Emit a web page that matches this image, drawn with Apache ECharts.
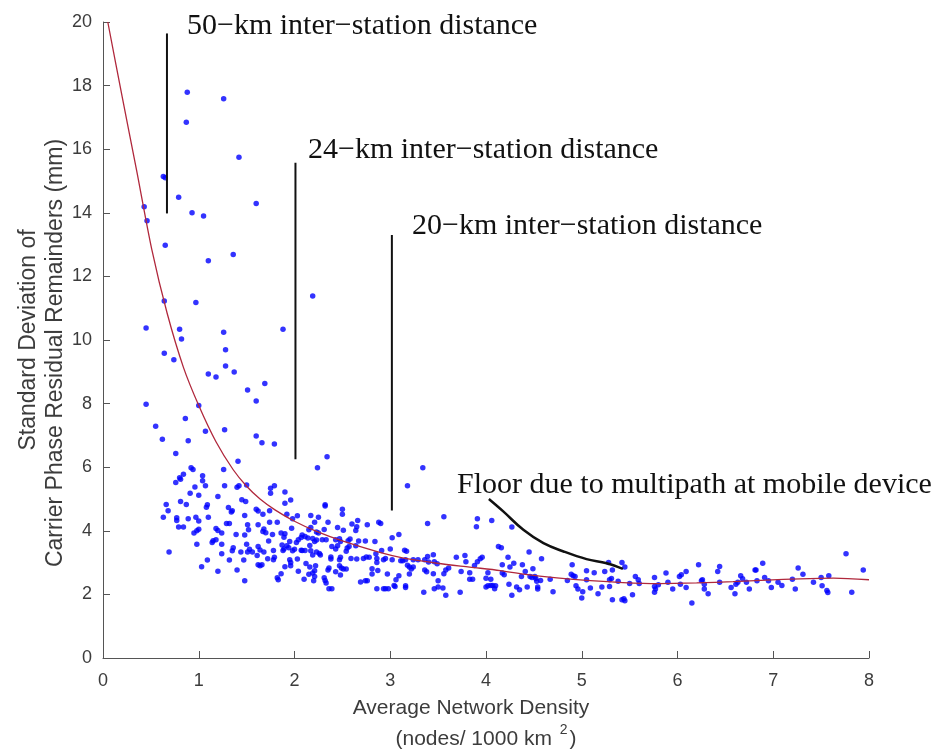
<!DOCTYPE html>
<html>
<head>
<meta charset="utf-8">
<title>Carrier phase residual remainders vs network density</title>
<script src="https://cdn.jsdelivr.net/npm/echarts@6/dist/echarts.min.js"></script>
<style>
  html, body { margin: 0; padding: 0; background: #ffffff; }
  #chart { width: 952px; height: 749px; }
</style>
</head>
<body>
<div id="chart"></div>
<script>
// Per-network results: [average density (nodes / 1000 km^2), std. dev. of residual remainders (mm)]
const residualPoints = [
  [0.88,17.79],[1.26,17.59],[0.87,16.85],[1.42,15.75],[0.63,15.14],[0.65,15.10],[0.79,14.49],[0.43,14.19],
  [0.93,14.00],[1.05,13.90],[1.60,14.29],[0.46,13.75],[0.65,12.98],
  [1.36,12.69],[1.10,12.49],[2.19,11.38],[0.64,11.23],[0.97,11.18],[0.45,10.38],[0.80,10.34],[1.26,10.24],
  [1.88,10.34],[0.82,10.03],[1.28,9.69],[0.64,9.58],[0.74,9.38],[1.28,9.18],[1.37,8.99],[1.10,8.93],
  [1.18,8.84],[1.69,8.63],[1.51,8.43],[1.60,8.08],[0.45,7.98],[1.00,7.94],[0.86,7.53],[0.55,7.29],
  [1.07,7.13],[1.27,7.18],[0.62,6.88],[0.89,6.83],[1.60,6.98],[1.66,6.77],[1.79,6.73],[0.76,6.43],
  [1.41,6.19],[2.24,5.98],[0.92,5.98],[0.94,5.93],[1.26,5.93],[0.84,5.78],[1.04,5.73],[0.80,5.67],[0.81,5.62],
  [2.34,6.33],[3.34,5.98],[3.18,5.42],
  [0.76,5.52],[0.96,5.38],[1.04,5.57],[1.07,5.42],[1.27,5.42],[1.20,5.08],[1.40,5.37],[1.42,5.42],
  [1.50,5.44],[0.91,5.18],[1.00,5.12],[1.45,4.98],[1.49,4.92],[0.81,4.92],[0.66,4.83],[0.87,4.83],
  [1.08,4.74],[1.09,4.82],[1.60,4.68],[1.62,4.62],[0.68,4.63],[0.63,4.43],[0.77,4.41],[0.77,4.32],
  [0.89,4.38],[0.97,4.43],[1.00,4.31],[1.10,4.43],[1.31,4.73],[1.34,4.59],[1.35,4.63],[1.48,4.48],
  [1.29,4.23],[1.32,4.23],[1.51,4.19],[1.62,4.19],[0.79,4.12],[0.84,4.12],[1.00,4.05],[0.98,4.00],
  [0.95,3.93],[1.18,4.07],[1.20,4.01],[1.24,3.93],[1.52,4.03],[1.39,3.88],[1.48,3.87],[1.15,3.69],
  [1.14,3.63],[1.18,3.72],[1.24,3.58],[0.98,3.58],[1.50,3.58],[1.62,3.51],[1.36,3.47],[1.35,3.37],
  [1.53,3.42],[1.51,3.33],[1.56,3.33],[1.44,3.33],[0.69,3.33],[1.24,3.28],[1.61,3.22],[1.09,3.08],
  [1.32,3.08],[1.47,3.08],[1.62,2.93],[1.03,2.87],[1.20,2.73],[1.40,2.77],[1.48,2.43],
  [1.75,5.34],[1.79,5.42],[1.75,5.18],[1.90,5.22],[1.90,4.87],[1.96,4.97],[2.32,4.82],[2.32,4.78],
  [2.50,4.68],[2.50,4.52],[1.67,4.52],[1.74,4.63],[1.92,4.52],[1.98,4.38],[2.03,4.47],[2.17,4.48],
  [2.25,4.43],[2.21,4.27],[2.35,4.27],[1.74,4.27],[1.82,4.27],[1.68,4.06],[1.67,3.98],[1.70,3.94],
  [1.77,3.88],[1.86,3.93],[1.90,3.91],[1.89,3.80],[1.97,4.08],[2.08,3.87],[2.07,3.79],[2.15,4.03],
  [2.17,4.10],[2.23,3.96],[2.25,3.93],[2.31,4.04],[2.45,4.10],[2.51,4.02],[2.60,4.21],[2.65,4.13],
  [2.64,4.01],[2.66,4.32],[2.76,4.19],[2.88,4.27],[1.73,3.68],[1.95,3.66],[2.04,3.72],[2.11,3.82],
  [2.14,3.77],[2.19,3.76],[2.21,3.66],[2.23,3.71],[2.29,3.72],[2.33,3.72],[2.43,3.72],[2.47,3.75],
  [2.48,3.66],[2.56,3.69],[2.58,3.74],[2.67,3.68],[2.74,3.68],[2.84,3.66],[1.64,3.40],[1.68,3.33],
  [1.78,3.38],[1.87,3.55],[1.89,3.43],[1.88,3.38],[1.92,3.53],[1.94,3.47],[2.00,3.42],[1.98,3.37],
  [2.02,3.63],[2.07,3.39],[2.08,3.38],[2.11,3.38],[2.16,3.54],[2.17,3.37],[2.23,3.33],[2.26,3.29],
  [2.39,3.51],[2.45,3.53],[2.43,3.43],[2.54,3.36],[2.55,3.46],[2.57,3.51],[2.64,3.53],[1.79,3.17],
  [1.78,3.09],[1.72,3.12],[1.95,3.09],[1.96,3.00],[2.03,3.11],[2.19,3.24],[2.27,3.24],[2.38,3.18],
  [2.38,3.11],[2.47,3.09],[2.48,3.17],[2.59,3.13],[2.65,3.11],[2.72,3.13],[2.75,3.18],[2.78,3.17],
  [2.85,3.28],[2.86,3.13],[1.64,2.90],[1.66,2.93],[1.90,2.87],[1.96,2.90],[2.12,2.97],[2.16,2.86],
  [2.22,2.90],[2.21,2.74],[2.36,2.83],[2.35,2.77],[2.47,2.90],[2.49,2.83],[2.51,2.80],[2.54,2.80],
  [2.43,2.71],[2.81,2.81],[2.87,2.75],[2.04,2.73],[1.86,2.65],[1.82,2.52],[1.83,2.46],[2.10,2.48],
  [2.15,2.63],[2.19,2.67],[2.21,2.56],[2.20,2.43],[2.31,2.52],[2.32,2.44],[2.33,2.36],[2.48,2.61],
  [2.69,2.39],[2.74,2.43],[2.76,2.43],[2.81,2.64],[2.36,2.18],[2.39,2.18],[2.86,2.18],
  [2.90,4.23],[3.39,4.23],[3.56,4.44],[3.91,4.38],[3.90,4.13],[4.06,4.32],[3.02,3.78],[3.09,3.88],
  [2.91,3.38],[3.00,3.43],[3.15,3.39],[3.17,3.36],[2.93,3.09],[2.95,3.13],[3.02,3.09],[3.11,3.06],
  [3.13,3.06],[3.16,3.09],[3.24,3.09],[3.29,3.09],[3.36,3.09],[3.39,3.19],[3.40,3.02],[3.45,3.25],
  [3.46,3.03],[3.49,2.96],[3.69,3.17],[3.78,3.22],[3.79,3.03],[3.91,3.03],[3.94,3.12],[3.96,3.17],
  [3.88,2.91],[2.86,3.00],[3.18,2.92],[3.20,2.86],[3.22,2.80],[3.24,2.86],[3.36,2.77],[3.38,2.71],
  [3.45,2.65],[3.56,2.65],[3.58,2.77],[3.61,2.83],[3.74,2.72],[3.83,2.68],[4.02,2.68],[2.97,2.64],
  [3.09,2.59],[3.06,2.46],[3.04,2.28],[3.20,2.64],[3.16,2.27],[3.16,2.22],[3.50,2.43],[3.83,2.48],
  [3.86,2.48],[4.00,2.51],[4.05,2.48],[2.93,2.18],[2.95,2.18],[2.98,2.18],[3.05,2.25],[3.35,2.07],
  [3.46,2.18],[3.50,2.23],[3.55,2.20],[3.58,1.97],[3.73,2.07],[4.00,2.23],[4.02,2.27],[4.05,2.28],
  [4.07,2.28],[4.10,2.27],[4.09,2.18],[4.13,3.51],
  [4.27,4.12],[4.16,3.47],[4.23,3.17],[4.29,2.98],[4.17,2.93],[4.45,3.33],[4.58,3.12],[4.38,2.93],
  [4.49,2.81],[4.25,2.86],[4.17,2.67],[4.19,2.62],[4.41,2.72],[4.37,2.56],[4.46,2.56],[4.48,2.53],
  [4.51,2.56],[4.52,2.50],[4.57,2.44],[4.53,2.41],[4.67,2.48],[4.24,2.32],[4.32,2.23],[4.35,2.15],
  [4.27,1.97],[4.43,2.23],[4.54,2.17],[4.54,2.23],[4.70,2.08],[4.85,2.44],[4.89,2.63],[4.91,2.59],
  [4.93,2.56],[4.90,2.93],[4.94,2.27],[4.96,2.17],[5.01,2.08],[5.00,1.89],[5.09,2.20],[5.17,2.02],
  [5.05,2.74],[5.05,2.46],[5.13,2.68],[5.21,2.23],[5.24,2.72],[5.28,3.00],[5.29,2.46],[5.31,2.50],
  [5.32,2.77],[5.32,1.83],[5.29,2.25],[5.42,3.00],[5.45,2.86],[5.42,1.83],[5.44,1.86],[5.45,1.80],
  [5.38,2.41],[5.50,2.34],[5.53,1.99],[5.56,2.56],[5.59,2.46],[5.60,2.34],
  [5.76,2.53],[5.76,2.25],[5.77,2.17],[5.76,2.07],[5.80,2.30],[5.88,2.67],[5.90,2.38],[5.95,2.17],
  [6.02,2.56],[6.04,2.62],[6.03,2.32],[6.09,2.72],[6.09,2.22],[6.15,1.73],[6.22,2.93],[6.25,2.43],
  [6.26,2.46],[6.28,2.32],[6.28,2.17],[6.32,2.02],[6.42,2.72],[6.44,2.88],[6.44,2.38],[6.56,2.22],
  [6.60,2.02],[6.61,2.32],[6.63,2.38],[6.66,2.59],[6.68,2.49],[6.72,2.38],[6.75,2.17],[6.81,2.77],
  [6.82,2.77],[6.83,2.43],[6.89,2.98],[6.91,2.53],[6.95,2.43],[6.98,2.22],[7.05,2.38],[7.09,2.28],
  [7.20,2.48],[7.23,2.17],[7.26,2.83],[7.31,2.63],[7.42,2.38],[7.50,2.53],[7.51,2.27],[7.56,2.12],
  [7.57,2.06],[7.58,2.59],[7.76,3.28],[7.82,2.07],[7.94,2.77]
];

// Fitted trend through the residual scatter
const fitCurve = [
  [0.05,20.00],[0.20,17.65],[0.35,15.35],[0.51,12.84],[0.67,10.84],[0.84,9.14],[1.00,7.94],
  [1.18,6.80],[1.36,5.92],[1.50,5.40],[1.64,5.00],[1.80,4.65],[2.00,4.30],[2.23,3.98],[2.50,3.68],
  [2.89,3.32],[3.14,3.14],[3.49,2.98],[3.83,2.86],[4.15,2.75],[4.39,2.64],[4.74,2.52],[5.09,2.43],
  [5.43,2.37],[5.80,2.34],[6.20,2.36],[6.58,2.40],[6.93,2.45],[7.28,2.49],[7.63,2.51],[8.00,2.46]
];

// Reference markers for inter-station spacing: [density, top, bottom]
const spacingMarkers = [
  [0.668, 19.64, 13.98],
  [2.010, 15.57, 6.25],
  [3.017, 13.30, 4.64]
];

// Leader curve pointing at the multipath floor
const floorLeader = [
  [4.03,5.00],[4.18,4.61],[4.39,4.03],[4.60,3.61],[4.81,3.35],[5.05,3.11],[5.26,2.98],[5.43,2.80]
];

const annotationTexts = [
  '50\u2212km inter\u2212station distance',
  '24\u2212km inter\u2212station distance',
  '20\u2212km inter\u2212station distance',
  'Floor due to multipath at mobile device'
];

const sans = '"Liberation Sans", Arial, Helvetica, sans-serif';
const serif = '"Liberation Serif", "Times New Roman", Times, serif';
const axisGray = '#555555';
const labelGray = '#3c3c3c';

const markerSeries = spacingMarkers.map(function (m, i) {
  return {
    type: 'line',
    name: 'spacing' + i,
    data: [[m[0], m[1]], [m[0], m[2]]],
    showSymbol: false,
    silent: true,
    lineStyle: { color: '#111111', width: 2 },
    z: 4
  };
});

const chart = echarts.init(document.getElementById('chart'), null, { renderer: 'canvas' });

chart.setOption({
  animation: false,
  backgroundColor: '#ffffff',
  grid: { left: 103, top: 22, width: 766, height: 636, containLabel: false, outerBoundsMode: 'none' },
  xAxis: {
    type: 'value',
    min: 0, max: 8, interval: 1,
    axisLine: { show: true, onZero: false, lineStyle: { color: axisGray, width: 1 } },
    axisTick: { show: true, inside: true, length: 7, lineStyle: { color: axisGray } },
    splitLine: { show: false },
    axisLabel: { color: labelGray, fontSize: 18, fontFamily: sans, margin: 14 },
    name: '{t|Average Network Density}\n{u|(nodes/ 1000 km }{s|2}{u|)}',
    nameLocation: 'middle',
    nameGap: 35,
    nameMoveOverlap: false,
    nameTextStyle: {
      color: labelGray,
      fontFamily: sans,
      rich: {
        t: { fontSize: 21, lineHeight: 30, fontFamily: sans, color: labelGray, padding: [0, 30, 0, 0] },
        u: { fontSize: 21, lineHeight: 32, fontFamily: sans, color: labelGray },
        s: { fontSize: 14, lineHeight: 32, fontFamily: sans, color: labelGray, verticalAlign: 'top', padding: [0, 2, 0, 2] }
      }
    }
  },
  yAxis: {
    type: 'value',
    min: 0, max: 20, interval: 2,
    axisLine: { show: true, onZero: false, lineStyle: { color: axisGray, width: 1 } },
    axisTick: { show: true, inside: true, length: 7, lineStyle: { color: axisGray } },
    splitLine: { show: false },
    axisLabel: { color: labelGray, fontSize: 18, fontFamily: sans, margin: 11 },
    name: '{a|Standard Deviation of}\n{b|Carrier Phase Residual Remainders (mm)}',
    nameLocation: 'middle',
    nameRotate: 90,
    nameGap: 34,
    nameMoveOverlap: false,
    nameTextStyle: {
      color: labelGray,
      fontFamily: sans,
      rich: {
        a: { fontSize: 23, lineHeight: 27, fontFamily: sans, color: labelGray },
        b: { fontSize: 23, lineHeight: 27, fontFamily: sans, color: labelGray, padding: [0, 26, 0, 0] }
      }
    }
  },
  series: [
    {
      type: 'scatter',
      name: 'networks',
      data: residualPoints,
      symbol: 'circle',
      symbolSize: 5.5,
      itemStyle: { color: '#0000ff' },
      silent: true,
      z: 2
    },
    {
      type: 'line',
      name: 'fit',
      data: fitCurve,
      smooth: 0.3,
      showSymbol: false,
      silent: true,
      lineStyle: { color: '#b0283c', width: 1.3 },
      z: 3
    },
    ...markerSeries,
    {
      type: 'line',
      name: 'floorLeader',
      data: floorLeader,
      smooth: 0.4,
      showSymbol: false,
      silent: true,
      lineStyle: { color: '#111111', width: 2.5 },
      z: 4
    }
  ],
  graphic: [
    { type: 'text', left: 187, top: 11, style: { text: annotationTexts[0], font: '30px ' + serif, fill: '#111111' } },
    { type: 'text', left: 308, top: 135, style: { text: annotationTexts[1], font: '30px ' + serif, fill: '#111111' } },
    { type: 'text', left: 412, top: 211, style: { text: annotationTexts[2], font: '30px ' + serif, fill: '#111111' } },
    { type: 'text', left: 457, top: 470, style: { text: annotationTexts[3], font: '30px ' + serif, fill: '#111111' } }
  ]
});
</script>
</body>
</html>
